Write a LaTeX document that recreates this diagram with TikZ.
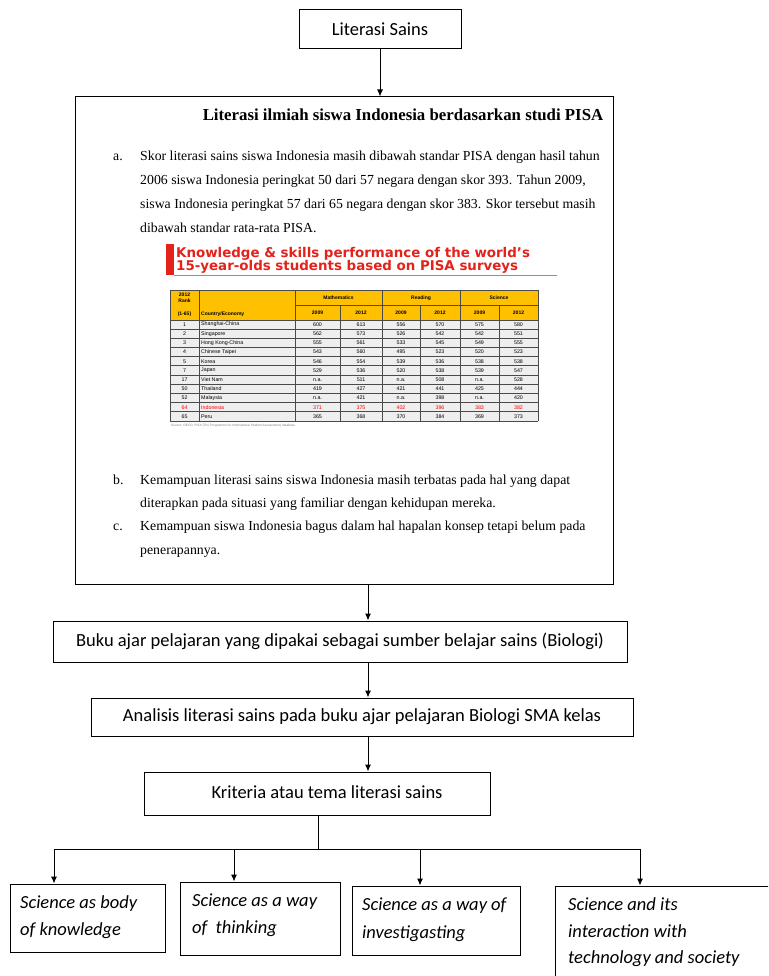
\documentclass[tikz,border=0pt]{standalone}
\usepackage{fontspec}
\setmainfont{Liberation Serif}
\newfontfamily\calfont{Carlito}
\newfontfamily\arfont{Liberation Sans}
\newfontfamily\banfont{DejaVu Sans}
\usetikzlibrary{arrows.meta}
\definecolor{bannerred}{HTML}{E3231B}
\definecolor{bannerline}{HTML}{EE6A6A}
\definecolor{hdr}{HTML}{FFC000}
\definecolor{rowbg}{HTML}{EEEEEE}
\definecolor{gridc}{HTML}{4A4A4A}
\tikzset{
  box/.style={draw, line width=1pt, inner sep=0pt},
  arr/.style={line width=1pt, -{Latex[length=7pt,width=6pt]}},
  plain/.style={line width=1pt},
  sans/.style={font=\calfont\fontsize{18.5}{21}\selectfont},
  itl/.style={font=\calfont\itshape\fontsize{18.5}{21}\selectfont, inner sep=0pt, anchor=base west},
  body/.style={font=\fontsize{13.8}{16}\selectfont, inner sep=0pt, anchor=base west},
  ttl/.style={font=\bfseries\fontsize{16.8}{19}\selectfont, inner sep=0pt, anchor=base},
  bann/.style={font=\banfont\bfseries\fontsize{13.4}{15}\selectfont, text=bannerred, inner sep=0pt, anchor=base west},
  thd/.style={font=\arfont\bfseries\fontsize{5}{6}\selectfont, inner sep=0pt},
  tdt/.style={font=\arfont\fontsize{5.3}{6}\selectfont, inner sep=0pt}
}
\begin{document}
\begin{tikzpicture}[x=1pt,y=-1pt]
\useasboundingbox (0,0) rectangle (768,976);
\fill[white] (0,0) rectangle (768,976);
\clip (0,0) rectangle (768,976);

% top box
\node[box, sans, minimum width=162, minimum height=39] (top) at (380,29.5) {Literasi Sains};
% big box
\node[box, minimum width=538, minimum height=487] (big) at (344,340.5) {};
\draw[arr] (top.south) -- (top.south |- big.north);

\node[ttl] (title) at (403,121) {Literasi ilmiah siswa Indonesia berdasarkan studi PISA};

\node[body] (alab) at (113,161) {a.};
\node[body] (a1) at (140,161) {Skor literasi sains siswa Indonesia masih dibawah standar PISA dengan hasil tahun};
\node[body] (a2) at (140,185) {2006 siswa Indonesia peringkat 50 dari 57 negara dengan skor 393. Tahun 2009,};
\node[body] (a3) at (140,209) {siswa Indonesia peringkat 57 dari 65 negara dengan skor 383. Skor tersebut masih};
\node[body] (a4) at (140,233) {dibawah standar rata-rata PISA.};

% banner
\node[fill=bannerred, minimum width=8, minimum height=31, inner sep=0pt] (bar) at (170,259.5) {};
\node[bann] (bn1) at (176,257) {Knowledge \& skills performance of the world’s};
\node[bann] (bn2) at (176,270.5) {15-year-olds students based on PISA surveys};
\draw[bannerline, line width=1pt] (bar.east |- 0,275.5) -- (557,275.5);

% table
\fill[hdr] (170,290) rectangle (538,320);
\fill[rowbg] (170,320) rectangle (538,421);
\foreach \yy in {320,329.18,338.36,347.55,356.73,365.91,375.09,384.27,393.45,402.64,411.82,421}
  \draw[gridc, line width=0.9pt] (170,\yy) -- (538,\yy);
\draw[gridc, line width=0.9pt] (170,290) -- (538,290);
\draw[gridc, line width=0.9pt] (295,305) -- (538,305);
\foreach \xx in {170,199,295,382,460,538}
  \draw[gridc, line width=0.9pt] (\xx,290) -- (\xx,421);
\foreach \xx in {340,420,499}
  \draw[gridc, line width=0.9pt] (\xx,305) -- (\xx,421);
\node[thd] (h1) at (184.5,294.5) {2012};
\node[thd] (h2) at (184.5,300.5) {Rank};
\node[thd] (h3) at (184.5,314.5) {(1-65)};
\node[thd, anchor=west] (h4) at (201,314.5) {Country/Economy};
\node[thd] (h5) at (338.5,298) {Mathematics};
\node[thd] (h6) at (421,298) {Reading};
\node[thd] (h7) at (499,298) {Science};
\foreach \cxa/\cxb [count=\k] in {317.5/361,401/440,479.5/518.5}{
  \node[thd] (ya\k) at (\cxa,313) {2009};
  \node[thd] (yb\k) at (\cxb,313) {2012};
}
\foreach \rk/\cn/\ma/\mb/\ra/\rb/\sa/\sb/\cc [count=\i] in {
  1/Shanghai-China/600/613/556/570/575/580/black,
  2/Singapore/562/573/526/542/542/551/black,
  3/Hong Kong-China/555/561/533/545/549/555/black,
  4/Chinese Taipei/543/560/495/523/520/523/black,
  5/Korea/546/554/539/536/538/538/black,
  7/Japan/529/536/520/538/539/547/black,
  17/Viet Nam/n.a./511/n.a./508/n.a./528/black,
  50/Thailand/419/427/421/441/425/444/black,
  52/Malaysia/n.a./421/n.a./398/n.a./420/black,
  64/Indonesia/371/375/402/396/383/382/red,
  65/Peru/365/368/370/384/369/373/black}{
  \pgfmathsetmacro{\yc}{320+(\i-0.5)*9.1818}
  \node[tdt, text=\cc] (r\i a) at (184.5,\yc) {\rk};
  \node[tdt, text=\cc, anchor=west] (r\i b) at (201,\yc) {\cn};
  \node[tdt, text=\cc] (r\i c) at (317.5,\yc) {\ma};
  \node[tdt, text=\cc] (r\i d) at (361,\yc) {\mb};
  \node[tdt, text=\cc] (r\i e) at (401,\yc) {\ra};
  \node[tdt, text=\cc] (r\i f) at (440,\yc) {\rb};
  \node[tdt, text=\cc] (r\i g) at (479.5,\yc) {\sa};
  \node[tdt, text=\cc] (r\i h) at (518.5,\yc) {\sb};
}
\node[font=\arfont\fontsize{3.2}{4}\selectfont, text=gray, inner sep=0pt, anchor=west] (src) at (171,425.5) {Source: OECD, PISA (The Programme for International Student Assessment) database};

\node[body] (blab) at (113,484) {b.};
\node[body] (b1t) at (140,484) {Kemampuan literasi sains siswa Indonesia masih terbatas pada hal yang dapat};
\node[body] (b2t) at (140,507) {diterapkan pada situasi yang familiar dengan kehidupan mereka.};
\node[body] (clab) at (113,530) {c.};
\node[body] (c1t) at (140,530) {Kemampuan siswa Indonesia bagus dalam hal hapalan konsep tetapi belum pada};
\node[body] (c2t) at (140,554) {penerapannya.};

% chain
\node[box, sans, minimum width=574, minimum height=41] (buku) at (340,641.5) {Buku ajar pelajaran yang dipakai sebagai sumber belajar sains (Biologi)};
\node[box, sans, minimum width=542, minimum height=38] (anal) at (362,717) {Analisis literasi sains pada buku ajar pelajaran Biologi SMA kelas};
\node[box, minimum width=346, minimum height=43] (krit) at (317,793.5) {};
\node[sans, inner sep=0pt] (krittxt) at (327,792) {Kriteria atau tema literasi sains};

\draw[arr] ([xshift=24pt]big.south) -- ([xshift=28pt]buku.north);
\draw[arr] ([xshift=28pt]buku.south) -- ([xshift=6pt]anal.north);
\draw[arr] ([xshift=6pt]anal.south) -- ([xshift=51pt]krit.north);

% bottom boxes
\node[box, minimum width=155, minimum height=68] (k1) at (87.5,918) {};
\node[box, minimum width=160, minimum height=73] (k2) at (260,918.5) {};
\node[box, minimum width=168, minimum height=69] (k3) at (436,920.5) {};
\node[box, minimum width=235, minimum height=114] (k4) at (672.5,943) {};

\node[itl] (k1a) at (20,908) {Science as body};
\node[itl] (k1b) at (20,935) {of knowledge};
\node[itl] (k2a) at (192,906) {Science as a way};
\node[itl] (k2b) at (192,933) {of\ \ thinking};
\node[itl] (k3a) at (362,910) {Science as a way of};
\node[itl] (k3b) at (362,938) {investigasting};
\node[itl] (k4a) at (568,910) {Science and its};
\node[itl] (k4b) at (568,937) {interaction with};
\node[itl] (k4c) at (568,963) {technology and society};

\coordinate (bus) at (318,849);
\coordinate (j1) at (54,849);
\coordinate (j2) at (234,849);
\coordinate (j3) at (420,849);
\coordinate (j4) at (640,849);
\draw[plain] ([xshift=1pt]krit.south) -- (bus);
\draw[plain] (j1) -- (j4);
\draw[arr] (j1) -- (j1 |- k1.north);
\draw[arr] (j2) -- (j2 |- k2.north);
\draw[arr] (j3) -- (j3 |- k3.north);
\draw[arr] (j4) -- (j4 |- k4.north);
\end{tikzpicture}
\end{document}
